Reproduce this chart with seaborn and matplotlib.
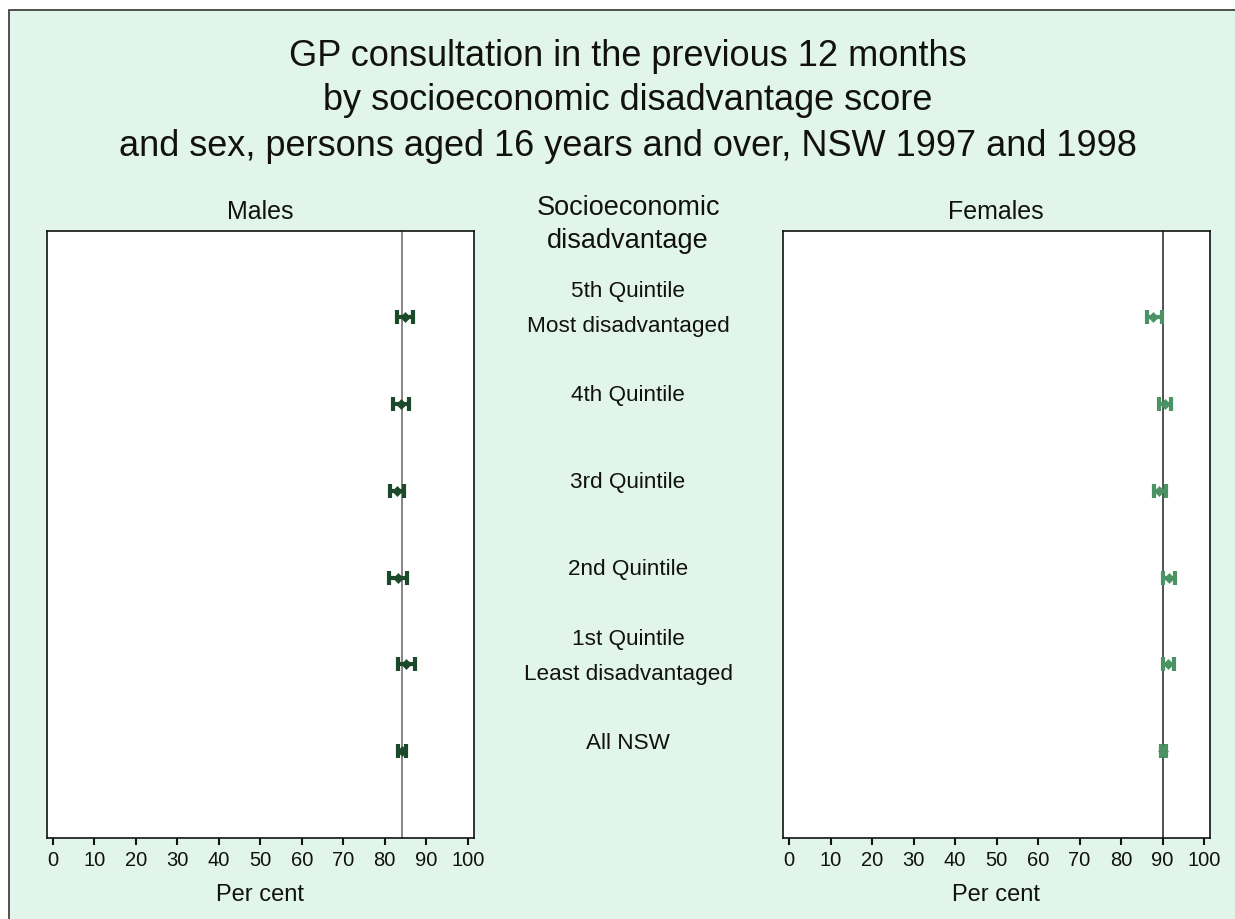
import numpy as np
import pandas as pd
import matplotlib
matplotlib.use("Agg")
import matplotlib.pyplot as plt
from matplotlib.patches import Rectangle
import seaborn as sns

groups = ['5th Quintile\nMost disadvantaged', '4th Quintile', '3rd Quintile',
          '2nd Quintile', '1st Quintile\nLeast disadvantaged', 'All NSW']
male_est = [84.9, 84.0, 83.0, 83.3, 85.1, 84.1]
male_lo = [82.9, 82.1, 81.3, 81.1, 83.1, 83.1]
male_hi = [86.9, 85.9, 84.7, 85.3, 87.3, 85.1]
female_est = [87.8, 90.6, 89.2, 91.6, 91.3, 90.2]
female_lo = [86.2, 89.2, 88.0, 90.2, 90.0, 89.6]
female_hi = [89.8, 92.0, 90.8, 93.0, 92.8, 90.8]
male_all = 84.1
female_all = 90.2
title_lines = ['GP consultation in the previous 12 months',
               'by socioeconomic disadvantage score',
               'and sex, persons aged 16 years and over, NSW 1997 and 1998']

bg = '#e1f5ea'
male_col = '#1b4a2b'
female_col = '#4b9365'
txt = '#111111'

sns.set_theme(style='white')
plt.rcParams['font.family'] = ['Liberation Sans', 'DejaVu Sans']

W, H = 1235, 919
fig = plt.figure(figsize=(W / 100, H / 100), dpi=100)
fig.patch.set_facecolor('white')
fig.patches.append(Rectangle((9 / W, -0.01), 1.02 - 9 / W, 1 - 10 / H + 0.01,
                             transform=fig.transFigure, facecolor=bg,
                             edgecolor='#333333', linewidth=1.2, zorder=-1))

def fy(py):
    return 1 - py / H

def panel(left, est, lo, hi, allval, col, vcol, title, tx):
    ax = fig.add_axes([left / W, fy(838), 427.5 / W, 607.5 / H])
    df = pd.DataFrame({'y': np.arange(len(groups)), 'est': est,
                       'lo': lo, 'hi': hi})
    ax.axvline(allval, color=vcol, lw=1.1, zorder=1)
    ax.errorbar(df['est'], df['y'],
                xerr=[df['est'] - df['lo'], df['hi'] - df['est']],
                fmt='none', ecolor=col, elinewidth=3.0, capsize=4.8,
                capthick=3.0, zorder=2)
    sns.scatterplot(data=df, x='est', y='y', marker='D', s=26, color=col,
                    edgecolor=col, ax=ax, zorder=3)
    ax.set_xlim(-1.5, 101.5)
    ax.set_ylim(6, -1)
    ax.set_xticks(range(0, 101, 10))
    ax.set_yticks([])
    ax.tick_params(axis='x', direction='out', length=5, width=1.5,
                   colors=txt, labelsize=14.5, pad=4, bottom=True)
    ax.set_xlabel('')
    ax.set_ylabel('')
    ax.set_facecolor('white')
    for s in ax.spines.values():
        s.set_color(txt)
        s.set_linewidth(1.2)
    fig.text(tx / W, fy(212), title, ha='center', va='center',
             fontsize=18, color=txt)
    fig.text(tx / W, fy(895), 'Per cent', ha='center', va='center',
             fontsize=17, color=txt)
    return ax

axm = panel(46.5, male_est, male_lo, male_hi, male_all, male_col, '#666666',
            'Males', 260)
axf = panel(782.8, female_est, female_lo, female_hi, female_all, female_col,
            '#222222', 'Females', 996)

for line, py in zip(title_lines, [56, 101, 146]):
    fig.text(628 / W, fy(py), line, ha='center', va='center', fontsize=26,
             color=txt)

for line, py in zip(['Socioeconomic', 'disadvantage'], [208, 241]):
    fig.text(628 / W, fy(py), line, ha='center', va='center', fontsize=19.5,
             color=txt)

for i, name in enumerate(groups):
    centre = 316.7 + 87 * i - 8
    parts = name.split('\n')
    offs = [0] if len(parts) == 1 else [-17.5, 17.5]
    for part, o in zip(parts, offs):
        fig.text(628 / W, fy(centre + o), part, ha='center', va='center',
                 fontsize=16.2, color=txt)

fig.savefig('out.png', dpi=100, facecolor=fig.get_facecolor())
